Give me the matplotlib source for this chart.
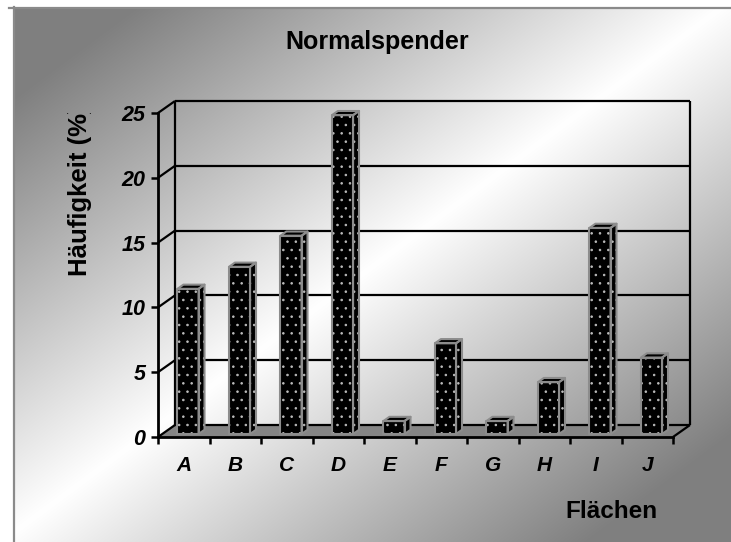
import matplotlib
matplotlib.use("Agg")
import matplotlib.pyplot as plt
import numpy as np
from matplotlib.patches import Polygon
from matplotlib.ticker import FixedLocator, NullFormatter
from matplotlib.transforms import Bbox

# --- data ---------------------------------------------------------------
categories = ["A", "B", "C", "D", "E", "F", "G", "H", "I", "J"]
values = [11.2, 12.9, 15.3, 24.6, 1.0, 7.0, 1.0, 4.0, 15.9, 5.9]
y_ticks = [0, 5, 10, 15, 20, 25]
title = "Normalspender"
y_label = "Häufigkeit (%)"
x_label = "Flächen"

plt.rcParams["font.family"] = ["Liberation Sans", "DejaVu Sans"]
plt.rcParams["hatch.linewidth"] = 0.6

W, H = 731, 542
fig = plt.figure(figsize=(W / 100, H / 100), dpi=100)

# --- background: diagonal grey-white-grey gradient inside a frame -------
bg = fig.add_axes([0, 0, 1, 1])
bg.set_xlim(0, W)
bg.set_ylim(H, 0)
bg.axis("off")
yy, xx = np.mgrid[0:H, 0:W]
t = (xx / W + yy / H) / 2.0
d = np.abs(2 * t - 1)
g = 1 - 0.5 * np.clip(d / 0.8, 0, 1)
img = np.dstack([g, g, g])
bg.imshow(img[7:, 13:], extent=(13, W, H, 7), aspect="auto", zorder=0)
bg.plot([9, W], [7.5, 7.5], color="#8a8a8a", lw=1.6, zorder=1)
bg.plot([13.5, 13.5], [7, H], color="#8a8a8a", lw=1.6, zorder=1)

# --- plot axes: front plane maps x 0..10 -> px 158..673, y 0..25 -> px 437..113
px_per_x = (673 - 158) / 10.0
px_per_y = (437 - 113) / 25.0
xlim = (-0.4, 10.8)
ylim = (-1.2, 26.5)
left_px = 158 + xlim[0] * px_per_x
right_px = 158 + xlim[1] * px_per_x
bot_px = 437 - ylim[0] * px_per_y
top_px = 437 - ylim[1] * px_per_y
ax = fig.add_axes([left_px / W, 1 - bot_px / H,
                   (right_px - left_px) / W, (bot_px - top_px) / H])
ax.set_xlim(*xlim)
ax.set_ylim(*ylim)
ax.patch.set_alpha(0)

n = len(categories)
DX = 17 / px_per_x      # depth offset of the back wall (x units)
DY = 12 / px_per_y      # depth offset of the back wall (y units)
ymax = y_ticks[-1]
line_kw = dict(color="black", lw=1.6, solid_capstyle="butt", zorder=2)

# floor
ax.add_patch(Polygon([(0, 0), (n, 0), (n + DX, DY), (DX, DY)],
                     closed=True, facecolor="#858585", edgecolor="none", zorder=1))
ax.plot([n, n + DX], [0, DY], **line_kw)

# back wall grid + side wall diagonals
for v in y_ticks:
    ax.plot([DX, n + DX], [v + DY, v + DY], **line_kw)
    ax.plot([0, DX], [v, v + DY], **line_kw)
ax.plot([DX, DX], [DY, ymax + DY], **line_kw)
ax.plot([n + DX, n + DX], [DY, ymax + DY], **line_kw)

# 3D columns
bw = 0.41          # front face width
f0 = 0.25          # depth position of the front face
bd = 0.35          # column depth
edge = "#8c8c8c"
for i, v in enumerate(values):
    x0 = i + 0.5 - bw / 2 + f0 * DX
    y0 = f0 * DY
    x1 = x0 + bw
    ddx, ddy = bd * DX, bd * DY
    front = [(x0, y0), (x1, y0), (x1, y0 + v), (x0, y0 + v)]
    side = [(x1, y0), (x1 + ddx, y0 + ddy), (x1 + ddx, y0 + v + ddy), (x1, y0 + v)]
    top = [(x0, y0 + v), (x1, y0 + v), (x1 + ddx, y0 + v + ddy), (x0 + ddx, y0 + v + ddy)]
    for face in (side, front):
        ax.add_patch(Polygon(face, closed=True, facecolor="black", edgecolor="#bdbdbd",
                             hatch="..", lw=0, zorder=3))
    ax.add_patch(Polygon(top, closed=True, facecolor="black", edgecolor="none", zorder=3))
    for face in (side, front, top):
        ax.add_patch(Polygon(face, closed=True, fill=False, edgecolor=edge,
                             lw=1.5, joinstyle="round", zorder=4))

# axes lines and ticks
for s in ("top", "right"):
    ax.spines[s].set_visible(False)
ax.spines["left"].set_position(("data", 0))
ax.spines["left"].set_bounds(0, ymax)
ax.spines["bottom"].set_position(("data", 0))
ax.spines["bottom"].set_bounds(0, n)
for s in ("left", "bottom"):
    ax.spines[s].set_linewidth(2.0)
    ax.spines[s].set_zorder(5)

ax.set_yticks(y_ticks)
ax.set_yticklabels([str(v) for v in y_ticks], fontsize=15.5,
                   fontweight="bold", fontstyle="italic")
ax.tick_params(axis="y", direction="out", length=5, width=1.8, pad=4)

ax.set_xticks(np.arange(n) + 0.5)
ax.set_xticklabels(categories, fontsize=15, fontweight="bold", fontstyle="italic")
ax.tick_params(axis="x", which="major", length=0, pad=14)
ax.xaxis.set_minor_locator(FixedLocator(np.arange(n + 1)))
ax.xaxis.set_minor_formatter(NullFormatter())
ax.tick_params(axis="x", which="minor", direction="out", length=5, width=1.8)

# titles
fig.text(377 / W, 1 - 42 / H, title, ha="center", va="center",
         fontsize=18, fontweight="bold")
ylab = fig.text(80 / W, 1 - 276 / H, y_label, ha="center", va="bottom", rotation=90,
                fontsize=18.5, fontweight="bold")
# the axis title runs into the top of the chart region and is cut there
ylab.set_clip_box(Bbox.from_extents(0, 0, W, H - 113))
ylab.set_clip_on(True)
fig.text(611 / W, 1 - 511 / H, x_label, ha="center", va="center",
         fontsize=17.5, fontweight="bold")

fig.savefig("out.png", dpi=100)
